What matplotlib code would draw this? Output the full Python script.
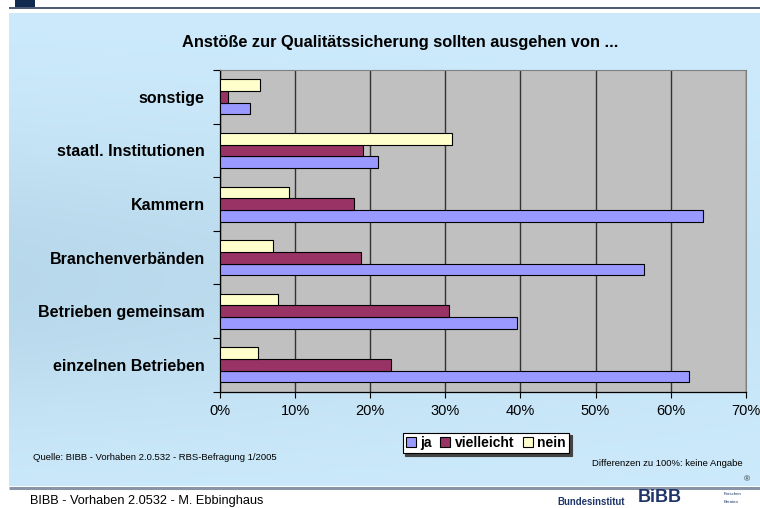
import numpy as np
import matplotlib
matplotlib.use("Agg")
import matplotlib.pyplot as plt
from matplotlib.patches import Rectangle
from matplotlib.ticker import FixedLocator, PercentFormatter

plt.rcParams['font.family'] = ['Liberation Sans', 'DejaVu Sans']

categories = ["einzelnen Betrieben", "Betrieben gemeinsam", "Branchenverbänden",
              "Kammern", "staatl. Institutionen", "sonstige"]
ja = [62.4, 39.6, 56.4, 64.3, 21.0, 4.0]
vielleicht = [22.8, 30.5, 18.8, 17.9, 19.0, 1.1]
nein = [5.0, 7.7, 7.0, 9.2, 30.9, 5.3]
series_names = ["ja", "vielleicht", "nein"]
series_colors = ["#9999FF", "#993366", "#FFFFCC"]
xticks = [0, 10, 20, 30, 40, 50, 60, 70]

title = "Anstöße zur Qualitätssicherung sollten ausgehen von ..."
source = "Quelle: BIBB - Vorhaben 2.0.532 - RBS-Befragung 1/2005"
note = "Differenzen zu 100%: keine Angabe"
footer = "BIBB - Vorhaben 2.0532 - M. Ebbinghaus"

W, H = 760, 508
fig = plt.figure(figsize=(W / 100, H / 100), dpi=100)
fig.patch.set_facecolor("white")

def fx(px):
    return px / W

def fy(py):
    return 1 - py / H

# background panel with gradient
bg = fig.add_axes([0, 0, 1, 1], zorder=-10)
bg.axis("off")
yy, xx = np.mgrid[13:486, 9:761]
light = np.array([0.80, 0.918, 0.984])
dark = np.array([0.72, 0.845, 0.92])
f = np.exp(-((yy - 280) / 140.0) ** 2) * (1 - 0.7 * (xx - 9) / 752.0)
img = light[None, None, :] + (dark - light)[None, None, :] * f[:, :, None]
bg.imshow(img, extent=[9, 761, 486, 13], aspect="auto", interpolation="bilinear")
bg.set_xlim(0, W)
bg.set_ylim(H, 0)
bg.plot([9, 760], [7.5, 7.5], color="#2B3B5C", lw=1.2, solid_capstyle="butt")
bg.add_patch(Rectangle((15, 0), 20, 7, facecolor="#102A4F", edgecolor="none"))
bg.plot([9, 760], [488, 488], color="#8A94A8", lw=2.2, solid_capstyle="butt")

# main axes
ax = fig.add_axes([fx(220), fy(391.7), fx(745.7) - fx(220), fy(70) - fy(391.7)])
ax.set_facecolor("#C0C0C0")
n = len(categories)
y = np.arange(n)
bh = 0.218
for i, (vals, col, name) in enumerate(zip([ja, vielleicht, nein], series_colors, series_names)):
    ax.barh(y + (i - 1) * bh, vals, height=bh, color=col, edgecolor="black",
            linewidth=0.8, label=name, zorder=3)

ax.set_xlim(0, 70)
ax.set_ylim(-0.5, n - 0.5)
ax.xaxis.set_major_locator(FixedLocator(xticks))
ax.xaxis.set_major_formatter(PercentFormatter(decimals=0))
ax.grid(axis="x", color="#333333", linewidth=1.0, zorder=1)
ax.set_axisbelow(True)
ax.set_yticks(y)
ax.set_yticklabels(categories, fontsize=11.5, fontweight="bold")
ax.set_yticks(np.arange(-0.5, n, 1.0), minor=True)
ax.tick_params(axis="y", which="major", length=0, pad=11)
ax.tick_params(axis="y", which="minor", length=5, direction="out", width=0.8)
ax.tick_params(axis="x", length=4, direction="out", width=0.8, labelsize=10.5, pad=5)
for s in ["top", "right"]:
    ax.spines[s].set_color("#808080")
    ax.spines[s].set_linewidth(0.8)
for s in ["left", "bottom"]:
    ax.spines[s].set_color("black")
    ax.spines[s].set_linewidth(0.9)

# title
fig.text(fx(400), fy(42), title, ha="center", va="center", fontsize=11.8, fontweight="bold")

# legend
handles, labels = ax.get_legend_handles_labels()
leg = fig.legend(handles, labels, loc="center", bbox_to_anchor=(fx(486), fy(443)),
                 ncol=3, prop={"weight": "bold", "size": 10},
                 frameon=True, fancybox=False, shadow={"color": "#444444", "alpha": 1},
                 handlelength=0.7, handleheight=0.7, handletextpad=0.35,
                 columnspacing=0.6, borderpad=0.25, borderaxespad=0)
leg.get_frame().set_edgecolor("black")
leg.get_frame().set_linewidth(0.8)

fig.text(fx(33), fy(457), source, ha="left", va="center", fontsize=6.8)
fig.text(fx(743), fy(463), note, ha="right", va="center", fontsize=6.8)
fig.text(fx(30), fy(501), footer, ha="left", va="center", fontsize=9.2)

# logo text
fig.text(fx(557), fy(502), "Bundesinstitut", ha="left", va="center", fontsize=6.9,
         fontweight="bold", color="#1F3569")
fig.text(fx(638), fy(506.5), "BiBB", ha="left", va="bottom", fontsize=13,
         fontweight="bold", color="#1F3569")
fig.text(fx(724), fy(494), "Forschen", ha="left", va="center", fontsize=3.2, color="#1F3569")
fig.text(fx(724), fy(502), "Beraten", ha="left", va="center", fontsize=3.2, color="#1F3569")
fig.text(fx(747), fy(480), "®", ha="center", va="center", fontsize=6, color="#333333")

fig.savefig("out.png", dpi=100)
